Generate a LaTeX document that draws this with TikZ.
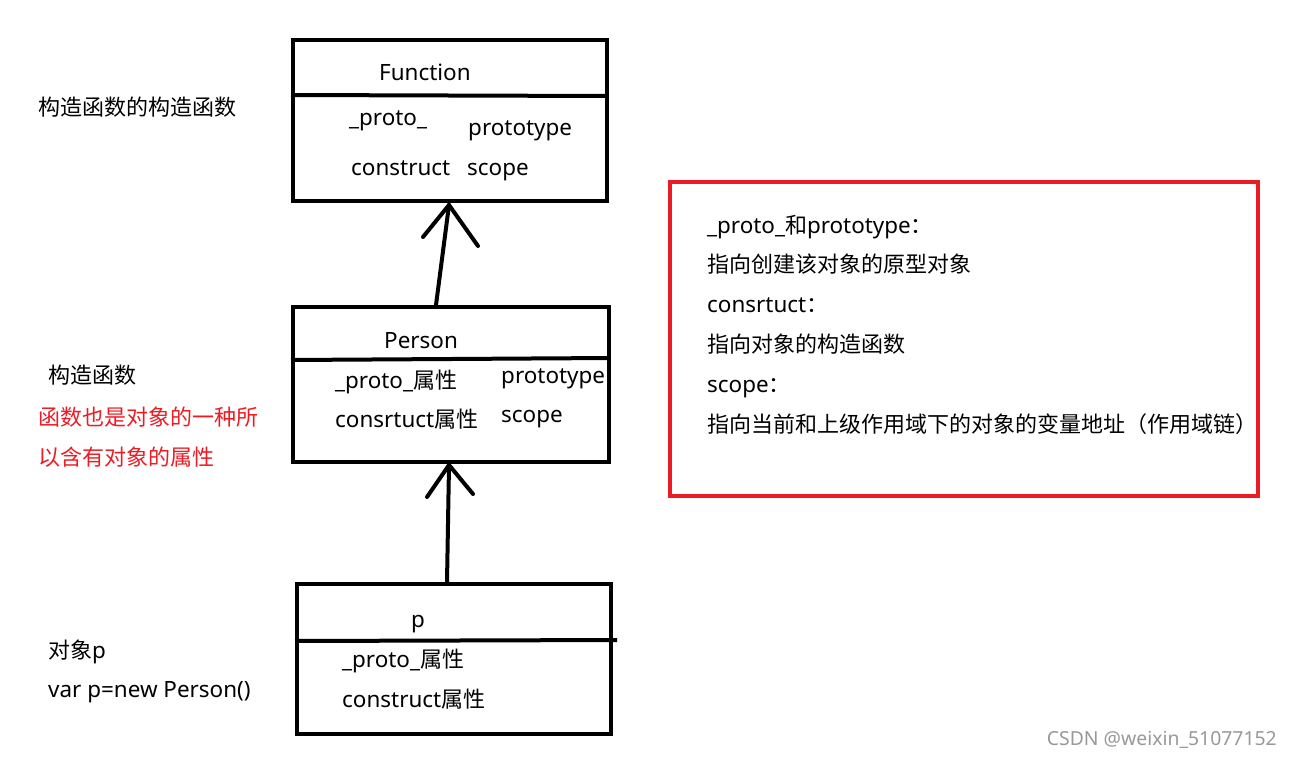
\documentclass[tikz,border=0pt]{standalone}
\usepackage{fontspec}
\setmainfont{Noto Sans}[Scale=1.02]
\newfontfamily\cjk{Noto Sans CJK SC}
\usetikzlibrary{calc}
\definecolor{pred}{RGB}{237,28,36}
\begin{document}
\begin{tikzpicture}[x=1pt,y=-1pt,
  box/.style={draw, line width=4pt, inner sep=0pt},
  txt/.style={anchor=base west, inner sep=0pt, font=\fontsize{22}{26}\selectfont},
  rtxt/.style={txt, text=pred},
  lnk/.style={line width=4pt, line cap=round}]
\useasboundingbox[fill=white] (0,0) rectangle (1292,758);

% boxes
\node[box, minimum width=314pt, minimum height=161pt] (fn) at (450,120.5) {};
\node[box, minimum width=316pt, minimum height=155pt] (pe) at (451,384.5) {};
\node[box, minimum width=314pt, minimum height=150pt] (po) at (454,659) {};
\node[draw=pred, line width=4pt, inner sep=0pt, minimum width=588pt, minimum height=314pt] (info) at (964,339) {};

% dividers
\draw[line width=4pt] ($(fn.north west)+(0,57)$) -- ++(317,1);
\draw[line width=4pt] ($(pe.north west)+(0,55)$) -- ++(319,-2);
\draw[line width=4pt] ($(po.north west)+(0,59)$) -- ++(322,-1);

% arrows
\coordinate (a1) at ([xshift=-1pt,yshift=-2pt]fn.south);
\draw[lnk] ([xshift=-15pt]pe.north) -- (a1);
\draw[lnk] (a1) -- ++(-26,32);
\draw[lnk] (a1) -- ++(29,41);
\coordinate (a2) at ([xshift=-2pt,yshift=-1pt]pe.south);
\draw[lnk] ([xshift=-7pt]po.north) -- (a2);
\draw[lnk] (a2) -- ++(-22,32);
\draw[lnk] (a2) -- ++(24,29);

% Function box text
\node[txt] (fnt) at (379,80) {Function};
\node[txt] (fp) at (349,125) {\_proto\_};
\node[txt] (fpt) at (468,135) {prototype};
\node[txt] (fc) at (351,175) {construct};
\node[txt] (fs) at (467,175) {scope};

% Person box text
\node[txt] (pet) at (384,348) {Person};
\node[txt] (pep) at (335,388) {\_proto\_{\cjk 属性}};
\node[txt] (pept) at (501,383) {prototype};
\node[txt] (pec) at (335,427) {consrtuct{\cjk 属性}};
\node[txt] (pes) at (501,422) {scope};

% p box text
\node[txt] (pot) at (411,627) {p};
\node[txt] (pop) at (342,667) {\_proto\_{\cjk 属性}};
\node[txt] (poc) at (342,707) {construct{\cjk 属性}};

% left labels
\node[txt] (l1) at (38,115) {\cjk 构造函数的构造函数};
\node[txt] (l2) at (48,383) {\cjk 构造函数};
\node[rtxt] (l3) at (38,425) {\cjk 函数也是对象的一种所};
\node[rtxt] (l4) at (38,465) {\cjk 以含有对象的属性};
\node[txt] (l5) at (48,658) {{\cjk 对象}p};
\node[txt] (l6) at (48,697) {var p=new Person()};

% info text
\node[txt] (i1) at (707,233) {\_proto\_{\cjk 和}prototype{\cjk ：}};
\node[txt] (i2) at (707,272) {\cjk 指向创建该对象的原型对象};
\node[txt] (i3) at (707,312) {consrtuct{\cjk ：}};
\node[txt] (i4) at (707,352) {\cjk 指向对象的构造函数};
\node[txt] (i5) at (707,392) {scope{\cjk ：}};
\node[txt] (i6) at (707,432) {\cjk 指向当前和上级作用域下的对象的变量地址（作用域链）};

% watermark
\node[anchor=base east, inner sep=0pt, text=black!40, font=\fontsize{19}{23}\selectfont] (wm) at (1277,745) {CSDN @weixin\_51077152};
\end{tikzpicture}
\end{document}
